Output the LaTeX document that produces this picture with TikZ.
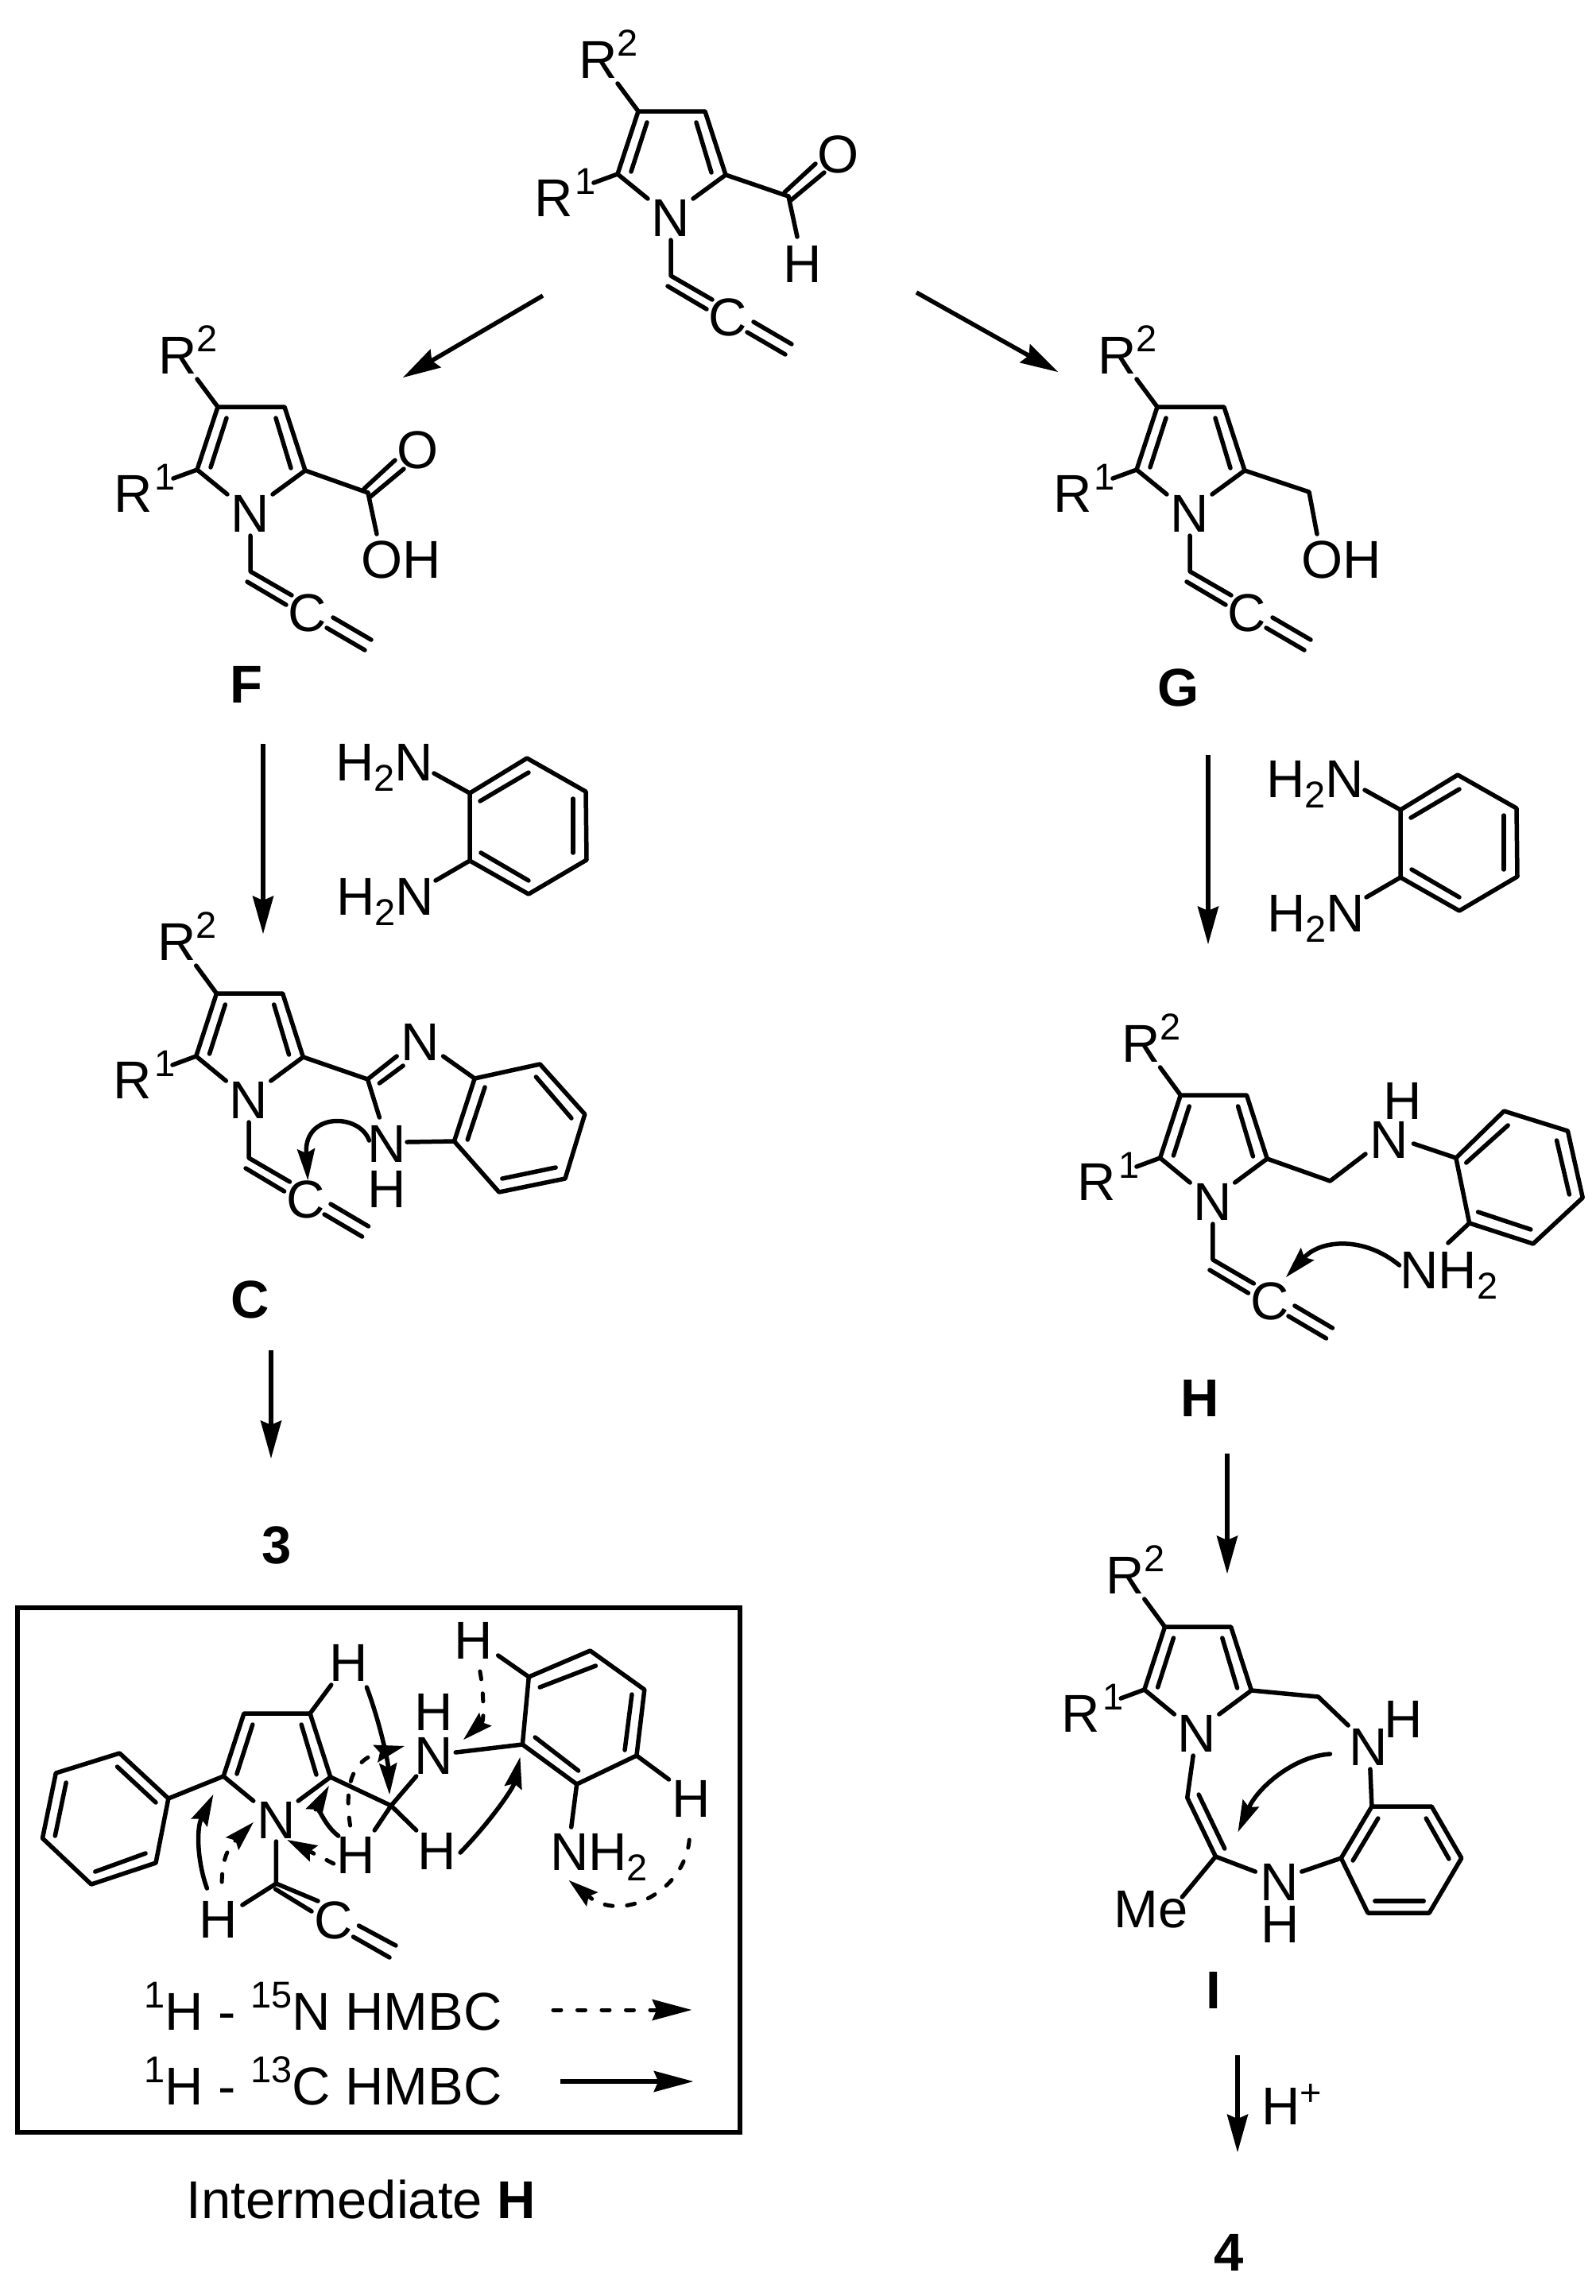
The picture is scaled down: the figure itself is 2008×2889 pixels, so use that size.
\documentclass[tikz,border=0pt]{standalone}
\usepackage{fontspec}
\setmainfont{Liberation Sans}
\usetikzlibrary{arrows.meta}
\tikzset{
  atomtext/.style={inner sep=0pt,outer sep=0pt,font=\fontsize{67}{67}\selectfont},
  boldtext/.style={inner sep=0pt,outer sep=0pt,font=\fontsize{67}{67}\selectfont\bfseries},
  bondline/.style={line width=5.5pt,line cap=round,line join=round},
  rxn/.style={line width=5.5pt,-{Stealth[length=48pt,width=27pt,inset=6pt,line width=0pt]}},
  curl/.style={line width=5.5pt,line cap=round,-{Stealth[length=40pt,width=23pt,inset=6pt,line width=0pt]}},
  dcurl/.style={line width=5pt,line cap=round,dash pattern=on 10pt off 18pt,-{Stealth[length=38pt,width=23pt,inset=6pt,line width=0pt]}},
  framebox/.style={line width=6pt,line join=miter}
}
\newcommand\supr[1]{\raisebox{28pt}{\fontsize{47}{47}\selectfont #1}}
\newcommand\subr[1]{\raisebox{-13pt}{\fontsize{47}{47}\selectfont #1}}
% atom label centred (by cap height) on x,y
\newcommand\atomlab[4]{\node[atomtext,anchor=base,text height=48pt,text depth=0pt] (#1) at (#2,#3+24) {#4};}
\newcommand\leftlab[4]{\node[atomtext,anchor=base west] (#1) at (#2,#3) {#4};}
\newcommand\dbl[2]{\draw[bondline] (#1) -- (#2);}
% pyrrole core, N at origin of shift
\newcommand\pyrcore[3]{%
  \begin{scope}[shift={(#2,#3)}]
    \atomlab{#1N}{0}{0}{N}
    \coordinate (#1c5) at (-67,-54);
    \coordinate (#1c4) at (-41,-133);
    \coordinate (#1c3) at (43,-133);
    \coordinate (#1c2) at (69,-53);
    \coordinate (#1s5) at (-29,-23);
    \coordinate (#1s2) at (28,-23);
    \draw[bondline] (#1s5) -- (#1c5) -- (#1c4) -- (#1c3) -- (#1c2) -- (#1s2);
    \dbl{-30,-119}{-50,-57}
    \dbl{32,-119}{51,-56}
  \end{scope}}
% R1 and R2 substituents
\newcommand\rgroups[3]{%
  \begin{scope}[shift={(#2,#3)}]
    \leftlab{#1Rtwo}{-116}{-175}{R\supr{2}}
    \leftlab{#1Rone}{-172}{-1}{R\supr{\hspace{3pt}1}}
    \coordinate (#1sr2) at (-67,-168);
    \coordinate (#1sr1) at (-97,-43);
    \draw[bondline] (#1sr2) -- (#1c4);
    \draw[bondline] (#1sr1) -- (#1c5);
  \end{scope}}
% N-allenyl
\newcommand\allenyl[3]{%
  \begin{scope}[shift={(#2,#3)}]
    \coordinate (#1sn) at (0,29);
    \coordinate (#1ch) at (0,74);
    \draw[bondline] (#1sn) -- (#1ch) -- (52,104);
    \dbl{-4,87}{45,116}
    \atomlab{#1C}{72}{125}{C}
    \dbl{104,132}{152,160}
    \dbl{96,145}{144,173}
  \end{scope}}
\newcommand\benzring[7]{%
  \coordinate (#1a) at (#2); \coordinate (#1b) at (#3); \coordinate (#1c) at (#4);
  \coordinate (#1d) at (#5); \coordinate (#1e) at (#6); \coordinate (#1f) at (#7);
  \draw[bondline] (#1a) -- (#1b) -- (#1c) -- (#1d) -- (#1e) -- (#1f) -- cycle;}
\newcommand\diamine[3]{%
  \begin{scope}[shift={(#2,#3)}]
    \leftlab{#1top}{424}{982}{H\subr{2}N}
    \leftlab{#1bot}{425}{1151}{H\subr{2}N}
    \benzring{#1r}{593,998}{665,954}{739,996}{740,1082}{667,1125}{593,1083}
    \coordinate (#1st) at (548,973);
    \coordinate (#1sb) at (550,1108);
    \draw[bondline] (#1st) -- (#1ra);
    \draw[bondline] (#1sb) -- (#1rf);
    \dbl{606,1008}{667,972}
    \dbl{723,1005}{723,1073}
    \dbl{607,1073}{667,1108}
  \end{scope}}
\begin{document}
\begin{tikzpicture}[x=1pt,y=-1pt]
\useasboundingbox (0,0) rectangle (2008,2889);

% --- top aldehyde
\pyrcore{t}{844}{273}
\rgroups{t}{844}{273}
\allenyl{t}{844}{273}
\coordinate (tco) at (992,247);
\draw[bondline] (tc2) -- (tco);
\atomlab{tO}{1055}{193}{O}
\dbl{987,242}{1026,206}
\dbl{995,252}{1037,217}
\draw[bondline] (tco) -- (1003,298);
\atomlab{tH}{1010}{331}{H}

% --- F
\pyrcore{f}{315}{645}
\rgroups{f}{315}{645}
\allenyl{f}{315}{645}
\coordinate (fco) at (463,620);
\draw[bondline] (fc2) -- (fco);
\atomlab{fO}{526}{565}{O}
\dbl{458,615}{497,579}
\dbl{466,625}{508,590}
\draw[bondline] (fco) -- (474,672);
\leftlab{fOH}{454}{727}{OH}
\node[boldtext] (labF) at (310,861) {F};

% --- G
\pyrcore{g}{1497}{645}
\rgroups{g}{1497}{645}
\allenyl{g}{1497}{645}
\coordinate (gch) at (1647,619);
\coordinate (gso) at (1657,672);
\draw[bondline] (gc2) -- (gch) -- (gso);
\leftlab{gOH}{1637}{727}{OH}
\node[boldtext] (labG) at (1483,865) {G};

% --- reagents
\diamine{dl}{-2}{0}
\diamine{dr}{1169}{21}

% --- C
\begin{scope}[shift={(120,0)},xscale=.99,shift={(-120,0)}]
\pyrcore{c}{315}{1383}
\rgroups{c}{315}{1383}
\allenyl{c}{315}{1383}
\coordinate (cim) at (466,1358);
\draw[bondline] (cc2) -- (cim) -- (481,1406);
\atomlab{cNa}{533}{1310}{N}
\dbl{466,1358}{503,1329}
\dbl{481,1363}{511,1341}
\atomlab{cNb}{490}{1438}{N}
\atomlab{cHb}{490}{1495}{H}
\benzring{cr}{602,1357}{685,1339}{742,1402}{717,1483}{633,1500}{576,1436}
\draw[bondline] (562,1329) -- (cra);
\draw[bondline] (516,1437) -- (crf);
\dbl{615,1368}{593,1434}
\dbl{680,1355}{725,1407}
\dbl{637,1483}{705,1469}
\coordinate (ccs) at (468,1435);
\coordinate (cct) at (390,1485);
\draw[curl] (ccs) .. controls (455,1400) and (385,1400) .. (cct);
\end{scope}
\node[boldtext] (labC) at (315,1635) {C};
\node[boldtext] (lab3) at (348,1944) {3};

% --- H
\begin{scope}[shift={(1320,0)},xscale=.99,shift={(-1320,0)}]
\pyrcore{h}{1528}{1511}
\rgroups{h}{1528}{1511}
\allenyl{h}{1528}{1511}
\coordinate (hch) at (1677,1486);
\draw[bondline] (hc2) -- (hch) -- (1722,1452);
\atomlab{hNa}{1752}{1433}{N}
\atomlab{hHa}{1769}{1384}{H}
\benzring{hr}{1837,1457}{1898,1398}{1979,1423}{1998,1507}{1935,1565}{1854,1539}
\draw[bondline] (1783,1439) -- (hra);
\draw[bondline] (hrf) -- (1827,1564);
\dbl{1850,1463}{1903,1416}
\dbl{1965,1435}{1981,1503}
\dbl{1865,1525}{1932,1547}
\leftlab{hNHtwo}{1766}{1621}{NH\subr{2}}
\coordinate (hcs) at (1765,1592);
\coordinate (hct) at (1621,1607);
\draw[curl] (hcs) .. controls (1720,1555) and (1665,1560) .. (hct);
\end{scope}
\node[boldtext] (labH) at (1510,1759) {H};

% --- I
\begin{scope}[shift={(1320,0)},xscale=.99,shift={(-1320,0)}]
\pyrcore{i}{1508}{2180}
\rgroups{i}{1508}{2180}
\coordinate (ich) at (1662,2135);
\draw[bondline] (ic2) -- (ich) -- (1700,2171);
\atomlab{iNa}{1726}{2197}{N}
\atomlab{iHa}{1770}{2162}{H}
\benzring{ir}{1730,2273}{1806,2273}{1844,2338}{1803,2407}{1725,2407}{1691,2338}
\draw[bondline] (1728,2226) -- (ira);
\dbl{1738,2288}{1706,2341}
\dbl{1799,2288}{1828,2339}
\dbl{1734,2392}{1796,2392}
\coordinate (iv1) at (1495.5,2262);
\coordinate (iv2) at (1531.5,2336);
\draw[bondline] (1503,2209) -- (iv1) -- (iv2) -- (1582,2355);
\dbl{1510,2258}{1543,2326}
\draw[bondline] (iv2) -- (1489,2387);
\leftlab{iMe}{1402}{2425}{Me}
\atomlab{iNb}{1613}{2367}{N}
\atomlab{iHb}{1614}{2420}{H}
\draw[bondline] (1641,2355) -- (irf);
\coordinate (ics) at (1677,2207);
\coordinate (ict) at (1560,2305);
\draw[curl] (ics) .. controls (1630,2210) and (1585,2250) .. (ict);
\end{scope}
\node[boldtext] (labI) at (1527,2504) {I};
\node[boldtext] (lab4) at (1546,2834) {4};

% --- reaction arrows
\coordinate (a1s) at (683,372); \coordinate (a1t) at (507,475);
\coordinate (a2s) at (1153,368); \coordinate (a2t) at (1331,468);
\coordinate (a3s) at (331,936); \coordinate (a3t) at (331,1175);
\coordinate (a4s) at (1520,950); \coordinate (a4t) at (1520,1188);
\coordinate (a5s) at (341,1699); \coordinate (a5t) at (341,1835);
\coordinate (a6s) at (1544,1829); \coordinate (a6t) at (1544,1980);
\coordinate (a7s) at (1557,2586); \coordinate (a7t) at (1557,2708);
\foreach \n in {1,...,7} {\draw[rxn] (a\n s) -- (a\n t);}
\leftlab{Hplus}{1587}{2673}{H\raisebox{24pt}{\fontsize{47}{47}\selectfont +}}

% --- box
\begin{scope}[xscale=.99]
\draw[framebox] (22,2023) rectangle (940,2683);
\pyrcore{b}{351}{2289}
\benzring{bp}{214,2263}{152,2206}{71,2231}{54,2313}{116,2371}{198,2344}
\dbl{149,2223}{198,2268}
\dbl{84,2243}{70,2310}
\dbl{121,2355}{185,2332}
\draw[bondline] (bpa) -- (bc5);
\draw[bondline] (bc3) -- (421,2120);
\atomlab{bHa}{443}{2091}{H}
\coordinate (bch) at (497,2272);
\draw[bondline] (bc2) -- (bch);
\draw[bondline] (bch) -- (476,2303);
\draw[bondline] (bch) -- (529,2303);
\draw[bondline] (bch) -- (529,2235);
\atomlab{bHb}{452}{2333}{H}
\atomlab{bHc}{555}{2328}{H}
\atomlab{bNb}{551}{2208}{N}
\atomlab{bHd}{551}{2153}{H}
\benzring{br}{664,2195}{672,2110}{750,2077}{819,2126}{809,2209}{733,2245}
\draw[bondline] (579,2205) -- (bra);
\dbl{686,2123}{757,2096}
\dbl{803,2132}{794,2202}
\dbl{680,2186}{735,2228}
\draw[bondline] (633,2083) -- (brb);
\atomlab{bHe}{602}{2063}{H}
\draw[bondline] (850,2239) -- (bre);
\atomlab{bHf}{878}{2262}{H}
\draw[bondline] (brf) -- (726,2299);
\leftlab{bNHtwo}{699}{2353}{NH\subr{2}}
\coordinate (bvn) at (351,2370);
\draw[bondline] (351,2317) -- (bvn) -- (404,2392);
\dbl{350,2377}{396,2405}
\draw[bondline] (bvn) -- (308,2397);
\atomlab{bHg}{277}{2414}{H}
\atomlab{bC}{424}{2415}{C}
\dbl{456,2423}{503,2448}
\dbl{449,2437}{495,2463}
% HMBC arrows
\coordinate (x1) at (466,2123); \coordinate (y1) at (495,2258);
\draw[curl] (x1) .. controls (482,2165) and (493,2215) .. (y1);
\coordinate (x2) at (445,2297); \coordinate (y2) at (514,2197);
\draw[dcurl] (x2) .. controls (438,2250) and (445,2215) .. (y2);
\coordinate (x3) at (430,2310); \coordinate (y3) at (418,2247);
\draw[curl] (x3) .. controls (410,2295) and (405,2270) .. (y3);
\coordinate (x4) at (424,2345); \coordinate (y4) at (365,2315);
\draw[dcurl] (x4) -- (y4);
\coordinate (x5) at (263,2376); \coordinate (y5) at (271,2258);
\draw[curl] (x5) .. controls (250,2340) and (250,2300) .. (y5);
\coordinate (x6) at (282,2368); \coordinate (y6) at (322,2293);
\draw[dcurl] (x6) .. controls (282,2340) and (290,2325) .. (y6);
\coordinate (x7) at (610,2103); \coordinate (y7) at (589,2189);
\draw[dcurl] (x7) .. controls (615,2130) and (615,2165) .. (y7);
\coordinate (x8) at (585,2331); \coordinate (y8) at (661,2211);
\draw[curl] (x8) .. controls (625,2290) and (652,2250) .. (y8);
\coordinate (x9) at (876,2315); \coordinate (y9) at (723,2366);
\draw[dcurl] (x9) .. controls (870,2380) and (790,2420) .. (y9);
% legend
\node[atomtext,anchor=base west] (leg1) at (183,2554) {\supr{1}H - \supr{15}N HMBC};
\node[atomtext,anchor=base west] (leg2) at (183,2648) {\supr{1}H - \supr{13}C HMBC};
\coordinate (ld1) at (703,2529); \coordinate (ld2) at (879,2529);
\coordinate (ls1) at (712,2619); \coordinate (ls2) at (881,2619);
\draw[line width=5pt,line cap=round,dash pattern=on 10pt off 20.5pt,-{Stealth[length=50pt,width=27pt,inset=6pt,line width=0pt]}] (ld1) -- (ld2);
\draw[line width=5.5pt,-{Stealth[length=50pt,width=27pt,inset=6pt,line width=0pt]}] (ls1) -- (ls2);
\node[atomtext,anchor=base west] (capt) at (237,2791) {Intermediate \textbf{H}};
\end{scope}
\end{tikzpicture}
\end{document}
